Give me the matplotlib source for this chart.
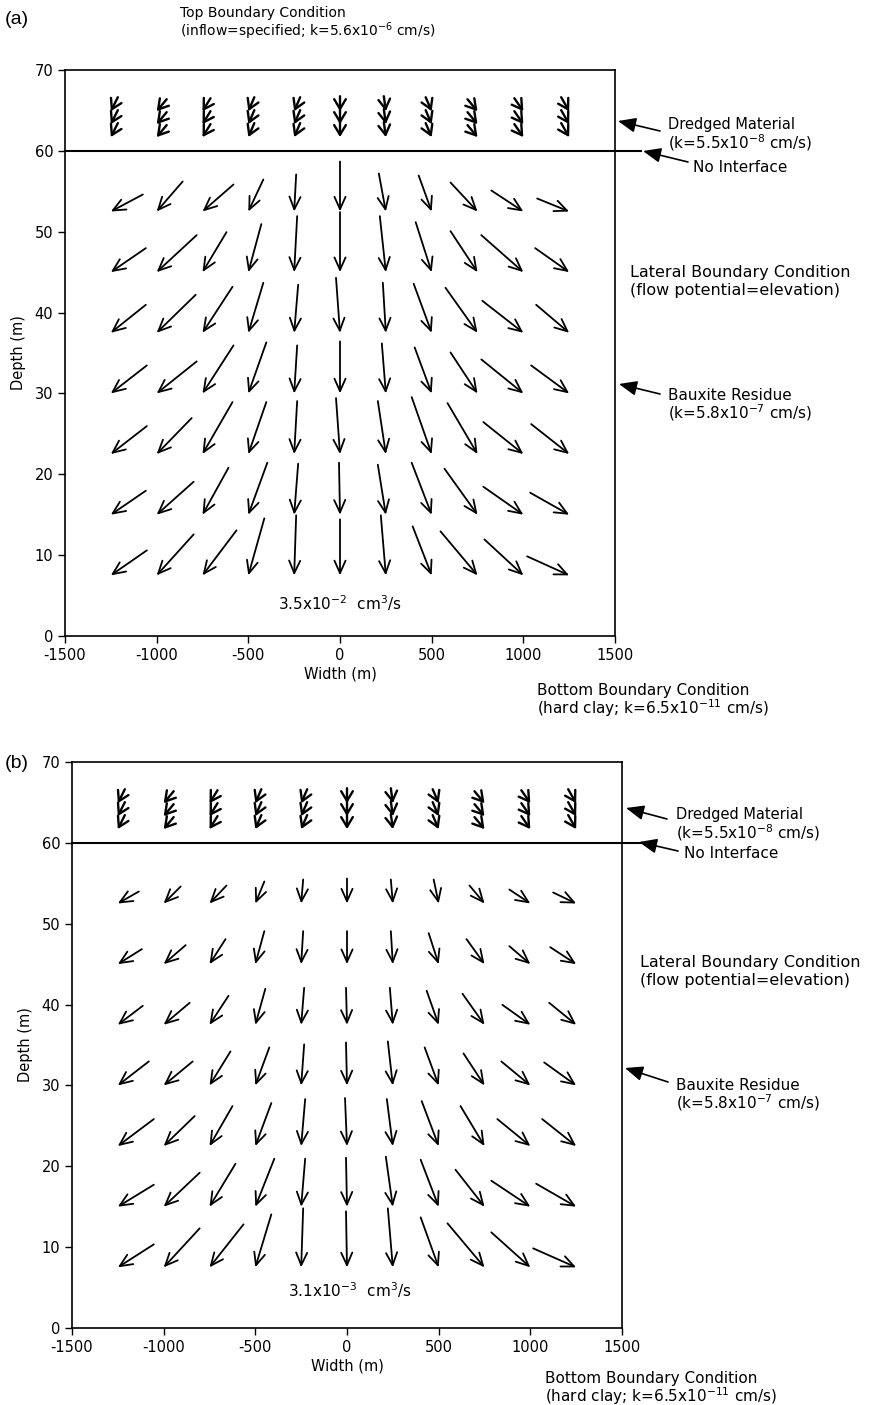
import matplotlib
matplotlib.use("Agg")
import matplotlib.pyplot as plt

plt.rcParams['font.family'] = ['DejaVu Sans']
plt.rcParams['mathtext.fontset'] = 'dejavusans'
plt.rcParams['mathtext.default'] = 'regular'
plt.rcParams['axes.unicode_minus'] = False

W, H = 886, 1405

# grid of nodes (m)
widths = [-1250, -1000, -750, -500, -250, 0, 250, 500, 750, 1000, 1250]
depths = [52.5, 45, 37.5, 30, 22.5, 15, 7.5]
top_depths = [61.7, 63.3, 64.9]

# flow vectors as drawn (horizontal, downward), rows top to bottom
a_qx = [[-32, -26, -31, -15, -2, 0, 7, 13, 27, 32, 32],
        [-35, -40, -24, -13, -3, 0, 6, 16, 27, 42, 34],
        [-35, -39, -30, -15, -4, 4, 3, 18, 32, 41, 33],
        [-36, -40, -31, -18, -3, 0, 4, 17, 27, 42, 38],
        [-36, -35, -30, -18, -3, 4, 8, 20, 30, 40, 38],
        [-35, -37, -26, -19, -4, 1, 8, 20, 33, 40, 39],
        [-36, -37, -34, -16, -2, 0, 5, 19, 37, 39, 42]]
a_qz = [[17, 30, 27, 32, 37, 50, 38, 36, 29, 21, 13],
        [24, 37, 40, 48, 56, 60, 56, 50, 41, 37, 24],
        [28, 38, 46, 50, 48, 55, 50, 49, 45, 32, 28],
        [28, 32, 48, 51, 48, 52, 50, 46, 41, 34, 28],
        [28, 36, 52, 52, 53, 56, 53, 57, 51, 32, 30],
        [24, 33, 47, 52, 51, 52, 50, 52, 46, 28, 22],
        [25, 41, 45, 57, 60, 56, 60, 49, 44, 36, 19]]

b_qx = [[-21, -17, -17, -9, -2, 0, 2, 5, 15, 21, 23],
        [-24, -22, -16, -9, -2, 0, 2, 10, 18, 21, 26],
        [-25, -26, -19, -10, -3, 1, 3, 12, 22, 28, 27],
        [-31, -29, -21, -14, -3, 1, 5, 14, 21, 29, 32],
        [-36, -31, -23, -16, -4, 2, 6, 17, 24, 33, 34],
        [-36, -36, -26, -19, -4, 1, 7, 18, 29, 39, 40],
        [-36, -36, -34, -16, -2, 1, 5, 18, 37, 39, 43]]
b_qz = [[12, 17, 18, 22, 24, 25, 24, 24, 18, 14, 11],
        [15, 19, 25, 33, 33, 33, 33, 31, 25, 18, 17],
        [19, 22, 29, 36, 37, 37, 37, 34, 31, 20, 22],
        [24, 24, 34, 38, 41, 43, 44, 38, 32, 24, 23],
        [27, 30, 40, 43, 47, 48, 47, 45, 40, 27, 27],
        [22, 34, 43, 48, 48, 49, 50, 47, 37, 26, 23],
        [23, 39, 43, 53, 59, 56, 59, 50, 44, 35, 19]]

# dredged material layer (same pattern in both runs)
top_qx = [-7, -10, -8, -6, -6, 0, 2, 6, 10, 9, 8]
top_qz = [14, 12, 13, 14, 14, 15, 15, 14, 12, 13, 14]

xticks = [-1500, -1000, -500, 0, 500, 1000, 1500]
yticks = [0, 10, 20, 30, 40, 50, 60, 70]


def fx(x): return x / W
def fy(y): return 1 - y / H


def draw_panel(ax, qx, qz):
    for i, d in enumerate(depths):
        for j, w in enumerate(widths):
            ax.annotate('', xy=(w, d), xytext=(-qx[i][j], qz[i][j]),
                        textcoords='offset pixels',
                        arrowprops=dict(arrowstyle='->,head_length=0.45,head_width=0.2',
                                        lw=1.3, color='black', shrinkA=0, shrinkB=0,
                                        mutation_scale=20))
    for d in top_depths:
        for j, w in enumerate(widths):
            ax.annotate('', xy=(w, d), xytext=(-top_qx[j], top_qz[j]),
                        textcoords='offset pixels',
                        arrowprops=dict(arrowstyle='->,head_length=0.5,head_width=0.3',
                                        lw=1.7, color='black', shrinkA=0, shrinkB=0,
                                        mutation_scale=14))
    ax.plot([-1500, 1640], [60, 60], color='black', lw=1.5, clip_on=False)
    ax.set_xlim(-1500, 1500)
    ax.set_ylim(0, 70)
    ax.set_xticks(xticks)
    ax.set_xticklabels([str(t) for t in xticks])
    ax.set_yticks(yticks)
    ax.tick_params(direction='out', length=5, width=1, labelsize=10.5)
    for s in ax.spines.values():
        s.set_linewidth(1.2)
    ax.set_xlabel('Width (m)', fontsize=10.5, labelpad=3)
    ax.set_ylabel('Depth (m)', fontsize=10.5, labelpad=6)


def label(x, y, s, size=11, ha='left', family=None):
    fig.text(fx(x), fy(y), s, fontsize=size, ha=ha, va='center', family=family)


def pointer(x0, y0, x1, y1):
    fig.add_artist(matplotlib.patches.FancyArrowPatch(
        (fx(x0), fy(y0)), (fx(x1), fy(y1)), transform=fig.transFigure,
        arrowstyle='-|>,head_length=0.6,head_width=0.25', mutation_scale=18,
        lw=1.2, color='black', shrinkA=0, shrinkB=0))


fig = plt.figure(figsize=(W / 100, H / 100), dpi=100)
ax_a = fig.add_axes([fx(65), fy(636), (615 - 65) / W, (636 - 70) / H])
ax_b = fig.add_axes([fx(72), fy(1328), (622 - 72) / W, (1328 - 762) / H])
draw_panel(ax_a, a_qx, a_qz)
draw_panel(ax_b, b_qx, b_qz)

# panel (a) notes
label(5, 20, '(a)', size=14, family='Liberation Sans')
label(180, 13, 'Top Boundary Condition', size=10)
label(180, 31, r'(inflow=specified; k=5.6x10$^{-6}$ cm/s)', size=10)
label(668, 125, 'Dredged Material', size=10.5)
label(668, 143, r'(k=5.5x10$^{-8}$ cm/s)')
pointer(660, 131, 618, 121)
label(693, 167, 'No Interface')
pointer(688, 162, 643, 151)
label(630, 273, 'Lateral Boundary Condition', size=11.5)
label(630, 291, '(flow potential=elevation)', size=11.5)
label(668, 395, 'Bauxite Residue')
label(668, 413, r'(k=5.8x10$^{-7}$ cm/s)')
pointer(660, 394, 619, 384)
label(340, 603, r'3.5x10$^{-2}$  cm$^{3}$/s', ha='center')
label(537, 690, 'Bottom Boundary Condition')
label(537, 708, r'(hard clay; k=6.5x10$^{-11}$ cm/s)')

# panel (b) notes
label(5, 763, '(b)', size=14, family='Liberation Sans')
label(676, 815, 'Dredged Material', size=10.5)
label(676, 833, r'(k=5.5x10$^{-8}$ cm/s)')
pointer(667, 819, 626, 808)
label(684, 854, 'No Interface')
pointer(678, 851, 639, 842)
label(640, 962, 'Lateral Boundary Condition', size=11.5)
label(640, 980, '(flow potential=elevation)', size=11.5)
label(676, 1085, 'Bauxite Residue')
label(676, 1103, r'(k=5.8x10$^{-7}$ cm/s)')
pointer(668, 1082, 625, 1068)
label(350, 1290, r'3.1x10$^{-3}$  cm$^{3}$/s', ha='center')
label(545, 1378, 'Bottom Boundary Condition')
label(545, 1396, r'(hard clay; k=6.5x10$^{-11}$ cm/s)')

fig.savefig('out.png', dpi=100)
